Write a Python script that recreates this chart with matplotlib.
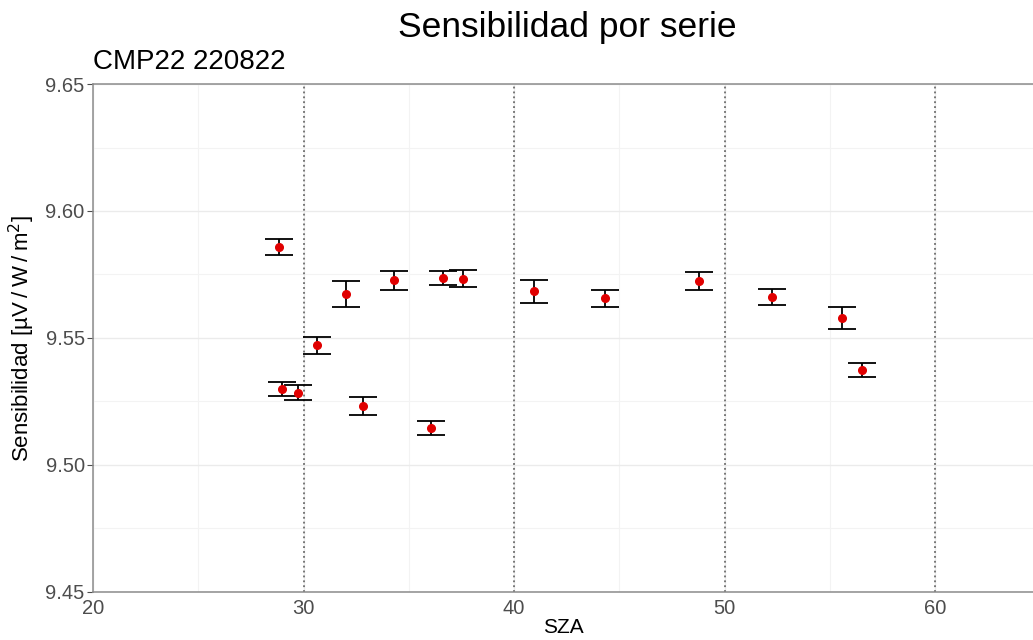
import matplotlib
matplotlib.use("Agg")
import matplotlib.pyplot as plt
from matplotlib.ticker import MultipleLocator

plt.rcParams['font.family'] = ['Liberation Sans', 'DejaVu Sans']

sza = [28.84, 28.99, 29.75, 30.66, 32.04, 32.84, 34.30, 36.06, 36.61, 37.59,
       40.96, 44.34, 48.77, 52.27, 55.58, 56.51]
sens = [9.5858, 9.5298, 9.5285, 9.5471, 9.5673, 9.5232, 9.5727, 9.5146, 9.5736, 9.5734,
        9.5684, 9.5656, 9.5724, 9.5660, 9.5579, 9.5373]
err = [0.0031, 0.0028, 0.0031, 0.0034, 0.0051, 0.0035, 0.0037, 0.0028, 0.0029, 0.0035,
       0.0046, 0.0032, 0.0035, 0.0032, 0.0042, 0.0028]
vlines = [30, 40, 50, 60]

fig = plt.figure(figsize=(10.33, 6.4), dpi=100)
ax = fig.add_axes([93/1033, 1-592/640, 1-93/1033, (592-84)/640])

ax.set_xlim(20, 20 + 940/21.05)
ax.set_ylim(9.45, 9.65)
ax.xaxis.set_major_locator(MultipleLocator(10))
ax.xaxis.set_minor_locator(MultipleLocator(5))
ax.yaxis.set_major_locator(MultipleLocator(0.05))
ax.yaxis.set_minor_locator(MultipleLocator(0.025))
ax.yaxis.set_major_formatter(matplotlib.ticker.FormatStrFormatter('%.2f'))

ax.grid(which='major', color='#ebebeb', linewidth=1.0, zorder=0)
ax.grid(which='minor', color='#f3f3f3', linewidth=0.8, zorder=0)
ax.set_axisbelow(True)

for v in vlines:
    ax.axvline(v, color='#555555', linestyle=(0, (1.2, 2.0)), linewidth=1.1, zorder=1)

ax.errorbar(sza, sens, yerr=err, fmt='none', ecolor='black', elinewidth=1.3,
            capsize=10, capthick=1.3, zorder=2)
ax.plot(sza, sens, 'o', color='#e00000', markersize=5.5, zorder=3)

for side in ['top', 'left', 'bottom']:
    ax.spines[side].set_color('#8c8c8c')
    ax.spines[side].set_linewidth(1.1)
ax.spines['right'].set_visible(False)

ax.tick_params(axis='both', which='major', labelsize=14.5, colors='#4d4d4d',
               length=4, width=0.8, pad=2)
ax.tick_params(axis='both', which='minor', length=0)
ax.tick_params(axis='x', length=0, pad=5)

ax.set_xlabel('SZA', fontsize=15, color='black', labelpad=0)
ax.set_ylabel('Sensibilidad [µV\u2009/\u2009W\u2009/\u2009m$^2$]', fontsize=16, color='black', labelpad=6)

fig.text(567/1033, 1-27/640, 'Sensibilidad por serie', fontsize=25.5, ha='center', va='center')
fig.text(93/1033, 1-62/640, 'CMP22 220822', fontsize=20, ha='left', va='center')

fig.savefig('out.png', dpi=100)
